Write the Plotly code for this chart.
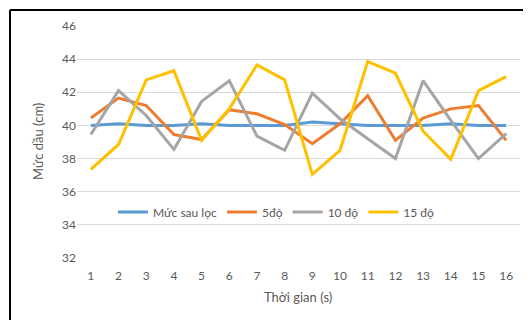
import plotly.graph_objects as go

time_labels = [str(i) for i in range(1, 17)]
muc_sau_loc = [40.0, 40.1, 40.0, 40.0, 40.1, 40.0, 40.0, 40.0, 40.2, 40.1, 40.0, 40.0, 40.0, 40.1, 40.0, 40.0]
do5 = [40.45, 41.65, 41.2, 39.45, 39.15, 40.95, 40.7, 40.05, 38.9, 40.1, 41.8, 39.1, 40.45, 41.0, 41.2, 39.1]
do10 = [39.45, 42.1, 40.6, 38.55, 41.45, 42.7, 39.35, 38.5, 41.95, 40.4, 39.2, 38.0, 42.7, 40.3, 38.0, 39.5]
do15 = [37.35, 38.85, 42.75, 43.3, 39.1, 41.0, 43.65, 42.75, 37.05, 38.5, 43.85, 43.15, 39.65, 37.95, 42.1, 42.95]

series = [
    ("Mức sau lọc", muc_sau_loc, "#5B9BD5"),
    ("5độ", do5, "#ED7D31"),
    ("10 độ", do10, "#A5A5A5"),
    ("15 độ", do15, "#FFC000"),
]

fig = go.Figure()
for name, vals, color in series:
    fig.add_trace(go.Scatter(x=time_labels, y=vals, name=name, mode="lines",
                             line=dict(color=color, width=3)))

OFF = 8  # page body margin
W, H = 531 - OFF, 320 - OFF
ml, mr, mt, mb = 77 - OFF, 11, 26 - OFF, 62
pw, ph = W - ml - mr, H - mt - mb

def px_x(p):
    return (p - OFF - ml) / pw

def px_y(p):
    return (H - mb - (p - OFF)) / ph

title_font = dict(family="Lato", size=13, color="#595959")

fig.update_layout(
    width=W, height=H,
    margin=dict(l=ml, r=mr, t=mt, b=mb),
    paper_bgcolor="white", plot_bgcolor="white",
    font=dict(family="Lato", size=12, color="#595959"),
    showlegend=True,
    legend=dict(orientation="h", x=px_x(113), y=px_y(212), xanchor="left", yanchor="middle",
                bgcolor="rgba(0,0,0,0)", font=dict(size=12, color="#595959"),
                itemwidth=30, tracegroupgap=0),
    xaxis=dict(type="category", range=[-0.5, 15.5], showgrid=False, zeroline=False,
               showline=False, ticks="", ticklabelstandoff=9,
               tickfont=dict(size=12, color="#595959")),
    yaxis=dict(range=[32, 46], dtick=2, showgrid=True, gridcolor="#D9D9D9", gridwidth=1,
               zeroline=False, showline=False, ticks="", tickfont=dict(size=12, color="#595959")),
    annotations=[
        dict(text="Thời gian (s)", xref="paper", yref="paper", x=px_x(298), y=px_y(297),
             xanchor="center", yanchor="middle", showarrow=False, font=title_font),
        dict(text="Mức dầu (cm)", xref="paper", yref="paper", x=px_x(38), y=px_y(142),
             xanchor="center", yanchor="middle", showarrow=False, textangle=-90, font=title_font),
    ],
    shapes=[
        dict(type="line", xref="paper", yref="paper", x0=px_x(10), x1=px_x(531 + 5),
             y0=px_y(10), y1=px_y(10), line=dict(color="black", width=2)),
        dict(type="line", xref="paper", yref="paper", x0=px_x(10), x1=px_x(10),
             y0=px_y(10), y1=px_y(320 + 5), line=dict(color="black", width=2)),
    ],
)

fig.write_html("out.html")
